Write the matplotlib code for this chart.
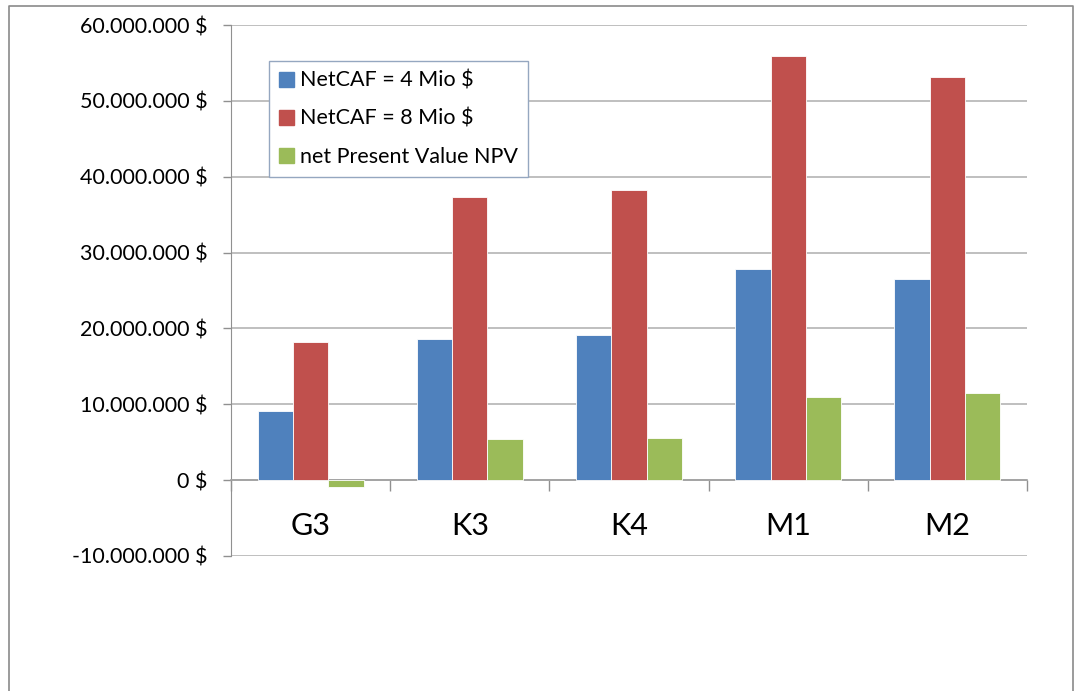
import matplotlib
matplotlib.use('Agg')
import matplotlib.pyplot as plt
import numpy as np
from matplotlib.ticker import FuncFormatter, FixedLocator
from matplotlib.patches import Rectangle
from matplotlib.lines import Line2D

# data
categories = ['G3', 'K3', 'K4', 'M1', 'M2']
netcaf_4 = [9.1e6, 18.6e6, 19.1e6, 27.8e6, 26.5e6]
netcaf_8 = [18.2e6, 37.3e6, 38.2e6, 55.9e6, 53.1e6]
npv = [-0.9e6, 5.4e6, 5.6e6, 11.0e6, 11.5e6]
series_labels = ['NetCAF = 4 Mio $', 'NetCAF = 8 Mio $', 'net Present Value NPV']
colors = ['#4F81BD', '#C0504D', '#9BBB59']

plt.rcParams['font.family'] = ['Lato', 'DejaVu Sans']

W, H = 1074, 691
fig = plt.figure(figsize=(W / 100, H / 100), dpi=100)
ax = fig.add_axes([231 / W, 1 - 556 / H, (1027 - 231) / W, (556 - 25) / H])

x = np.arange(len(categories))
w = 0.222
for j, (vals, lab, c) in enumerate(zip([netcaf_4, netcaf_8, npv], series_labels, colors)):
    ax.bar(x + (j - 1) * w, vals, w, color=c, label=lab,
           edgecolor='#ffffff', linewidth=0.6, zorder=3)

ax.set_xlim(-0.5, len(categories) - 0.5)
ax.set_ylim(-10e6, 60e6)
ax.set_yticks(np.arange(-10e6, 60e6 + 1, 10e6))
ax.yaxis.set_major_formatter(FuncFormatter(
    lambda v, p: (f"{v:,.0f} $").replace(',', '.')))
ax.yaxis.grid(True, color='#b4b4b4', linewidth=1.2, zorder=0)
ax.set_axisbelow(True)

# x axis at zero
ax.spines['bottom'].set_position(('data', 0))
ax.spines['bottom'].set_color('#a0a0a0')
ax.spines['bottom'].set_linewidth(1.2)
ax.spines['left'].set_color('#909090')
ax.spines['top'].set_visible(False)
ax.spines['right'].set_visible(False)

ax.set_xticks(x)
ax.set_xticklabels(categories, fontsize=22)
ax.xaxis.set_minor_locator(FixedLocator(np.arange(-0.5, len(categories), 1.0)))
ax.tick_params(axis='x', which='major', length=0, pad=23)
ax.tick_params(axis='x', which='minor', length=8, direction='out', color='#909090', width=1)
ax.tick_params(axis='y', length=6, direction='out', color='#909090', width=1,
               labelsize=15.5, pad=11)

handles = [Rectangle((0, 0), 1, 1, color=c) for c in colors]
leg = fig.legend(handles, series_labels, loc='upper left',
                 bbox_to_anchor=(269 / W, 1 - 61 / H), fontsize=15.5,
                 fancybox=False, framealpha=1, edgecolor='#95a7c0',
                 handlelength=0.7, handleheight=0.7, handletextpad=0.3,
                 labelspacing=0.85, borderpad=0.45, borderaxespad=0)
leg.get_frame().set_linewidth(1.0)

# outer chart frame
fig.add_artist(Line2D([9 / W, 9 / W, 1073 / W, 1073 / W],
                      [0, 1 - 6 / H, 1 - 6 / H, 0],
                      color='#8a8a8a', linewidth=1.2))

fig.savefig('out.png', dpi=100)
